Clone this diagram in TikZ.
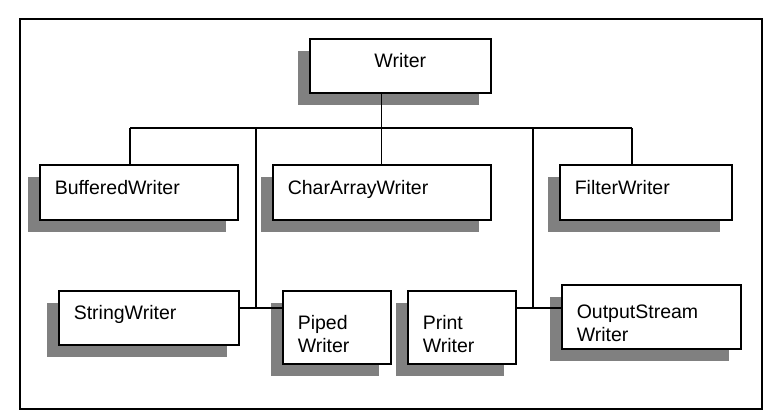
\documentclass[tikz,border=0pt]{standalone}
\usepackage{fontspec}
\setmainfont{Liberation Sans}
\usepackage{xcolor}
\usepackage{tikz}
\usetikzlibrary{positioning,shadows}
\definecolor{shadowgray}{RGB}{128,128,128}
\tikzset{
  cls/.style={draw, line width=1.6pt, fill=white, anchor=north west,
              inner xsep=15pt, inner ysep=0pt, align=left, text depth=10pt,
              font=\fontsize{19.5}{23}\selectfont,
              drop shadow={shadow xshift=-12pt, shadow yshift=-12pt,
                           fill=shadowgray, opacity=1}},
  link/.style={line width=1.3pt},
}

\begin{document}
\begin{tikzpicture}[x=1pt, y=-1pt]
  \useasboundingbox (0,0) rectangle (775,416);
  \draw[line width=1.8pt] (20,19) rectangle (762,409);

  \node[cls, align=center, minimum height=54pt, text width=151pt] (writer) at (309,38) {Writer};
  \node[cls, minimum height=55pt, text width=168pt] (bufw) at (39,164) {BufferedWriter};
  \node[cls, minimum height=55pt, text width=188pt] (charw) at (272,164) {CharArrayWriter};
  \node[cls, minimum height=55pt, text width=142pt] (filterw) at (559,164) {FilterWriter};
  \node[cls, minimum height=54pt, text width=150pt] (stringw) at (58,290) {StringWriter};
  \node[cls, minimum height=73pt, text width=78pt] (pipedw) at (282,290) {Piped\\Writer};
  \node[cls, minimum height=73pt, text width=78pt] (printw) at (407,290) {Print\\Writer};
  \node[cls, minimum height=64pt, text width=149pt] (osw) at (561,284) {OutputStream\\Writer};

  % bus and branch points
  \coordinate (ba) at (130,128);
  \coordinate (bb) at (256,128);
  \coordinate (bd) at (533,128);
  \coordinate (be) at (632,128);
  \coordinate (jl) at (256,308);
  \coordinate (jr) at (533,308);

  \draw[link] (ba) -- (be);
  \draw[link] (writer.south -| charw.north) -- (charw.north);
  \draw[link] (ba) -- (ba |- bufw.north);
  \draw[link] (be) -- (be |- filterw.north);
  \draw[link] (bb) -- (jl);
  \draw[link] (bd) -- (jr);
  \draw[link] (stringw.east |- jl) -- (pipedw.west |- jl);
  \draw[link] (printw.east |- jr) -- (osw.west |- jr);
\end{tikzpicture}
\end{document}
